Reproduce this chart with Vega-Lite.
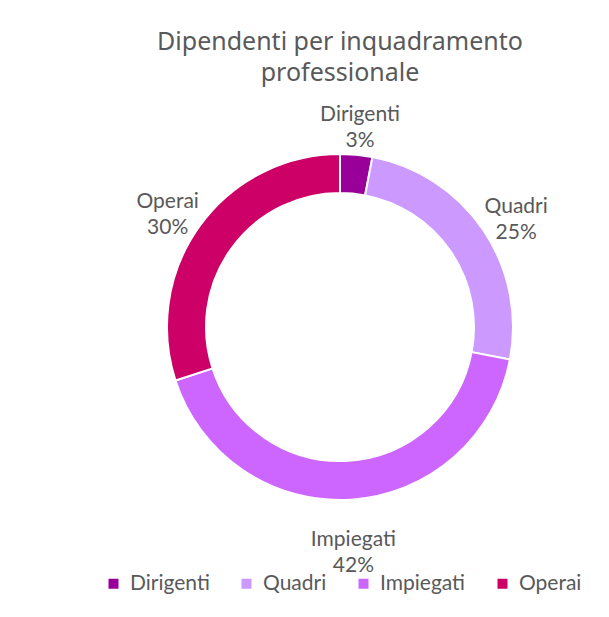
{
  "$schema": "https://vega.github.io/schema/vega-lite/v6.json",
  "width": 538,
  "height": 438,
  "autosize": "none",
  "padding": {"left": 71, "right": 0, "top": 108, "bottom": 71},
  "background": "white",
  "title": {
    "text": ["Dipendenti per inquadramento", "professionale"],
    "font": "Noto Sans",
    "fontSize": 25,
    "fontWeight": "normal",
    "color": "#595959",
    "lineHeight": 31,
    "anchor": "middle",
    "offset": 18
  },
  "data": {
    "values": [
      {"categoria": "Dirigenti", "valore": 3, "ordine": 1, "etichetta": "Dirigenti\n3%"},
      {"categoria": "Quadri", "valore": 25, "ordine": 2, "etichetta": "Quadri\n25%"},
      {"categoria": "Impiegati", "valore": 42, "ordine": 3, "etichetta": "Impiegati\n42%"},
      {"categoria": "Operai", "valore": 30, "ordine": 4, "etichetta": "Operai\n30%"}
    ]
  },
  "encoding": {
    "theta": {"field": "valore", "type": "quantitative", "stack": true},
    "order": {"field": "ordine", "type": "quantitative"}
  },
  "layer": [
    {
      "mark": {"type": "arc", "outerRadius": 173, "innerRadius": 134, "stroke": "white", "strokeWidth": 2},
      "encoding": {
        "color": {
          "field": "categoria",
          "type": "nominal",
          "sort": ["Dirigenti", "Quadri", "Impiegati", "Operai"],
          "scale": {
            "domain": ["Dirigenti", "Quadri", "Impiegati", "Operai"],
            "range": ["#990099", "#CC99FF", "#CC66FF", "#CC0066"]
          },
          "legend": {
            "title": null,
            "orient": "none",
            "legendX": 32,
            "legendY": 465,
            "direction": "horizontal",
            "symbolType": "square",
            "symbolSize": 100,
            "symbolStrokeWidth": 0,
            "labelFont": "Lato",
            "labelFontSize": 21,
            "labelColor": "#595959",
            "labelOffset": 6,
            "columnPadding": 26,
            "symbolOffset": 0
          }
        }
      }
    },
    {
      "mark": {
        "type": "text",
        "radius": 213,
        "font": "Lato",
        "fontSize": 21,
        "color": "#595959",
        "lineBreak": "\n",
        "lineHeight": 26,
        "baseline": "middle",
        "align": "center"
      },
      "encoding": {
        "text": {"field": "etichetta", "type": "nominal"}
      }
    }
  ],
  "config": {"view": {"stroke": null}}
}
